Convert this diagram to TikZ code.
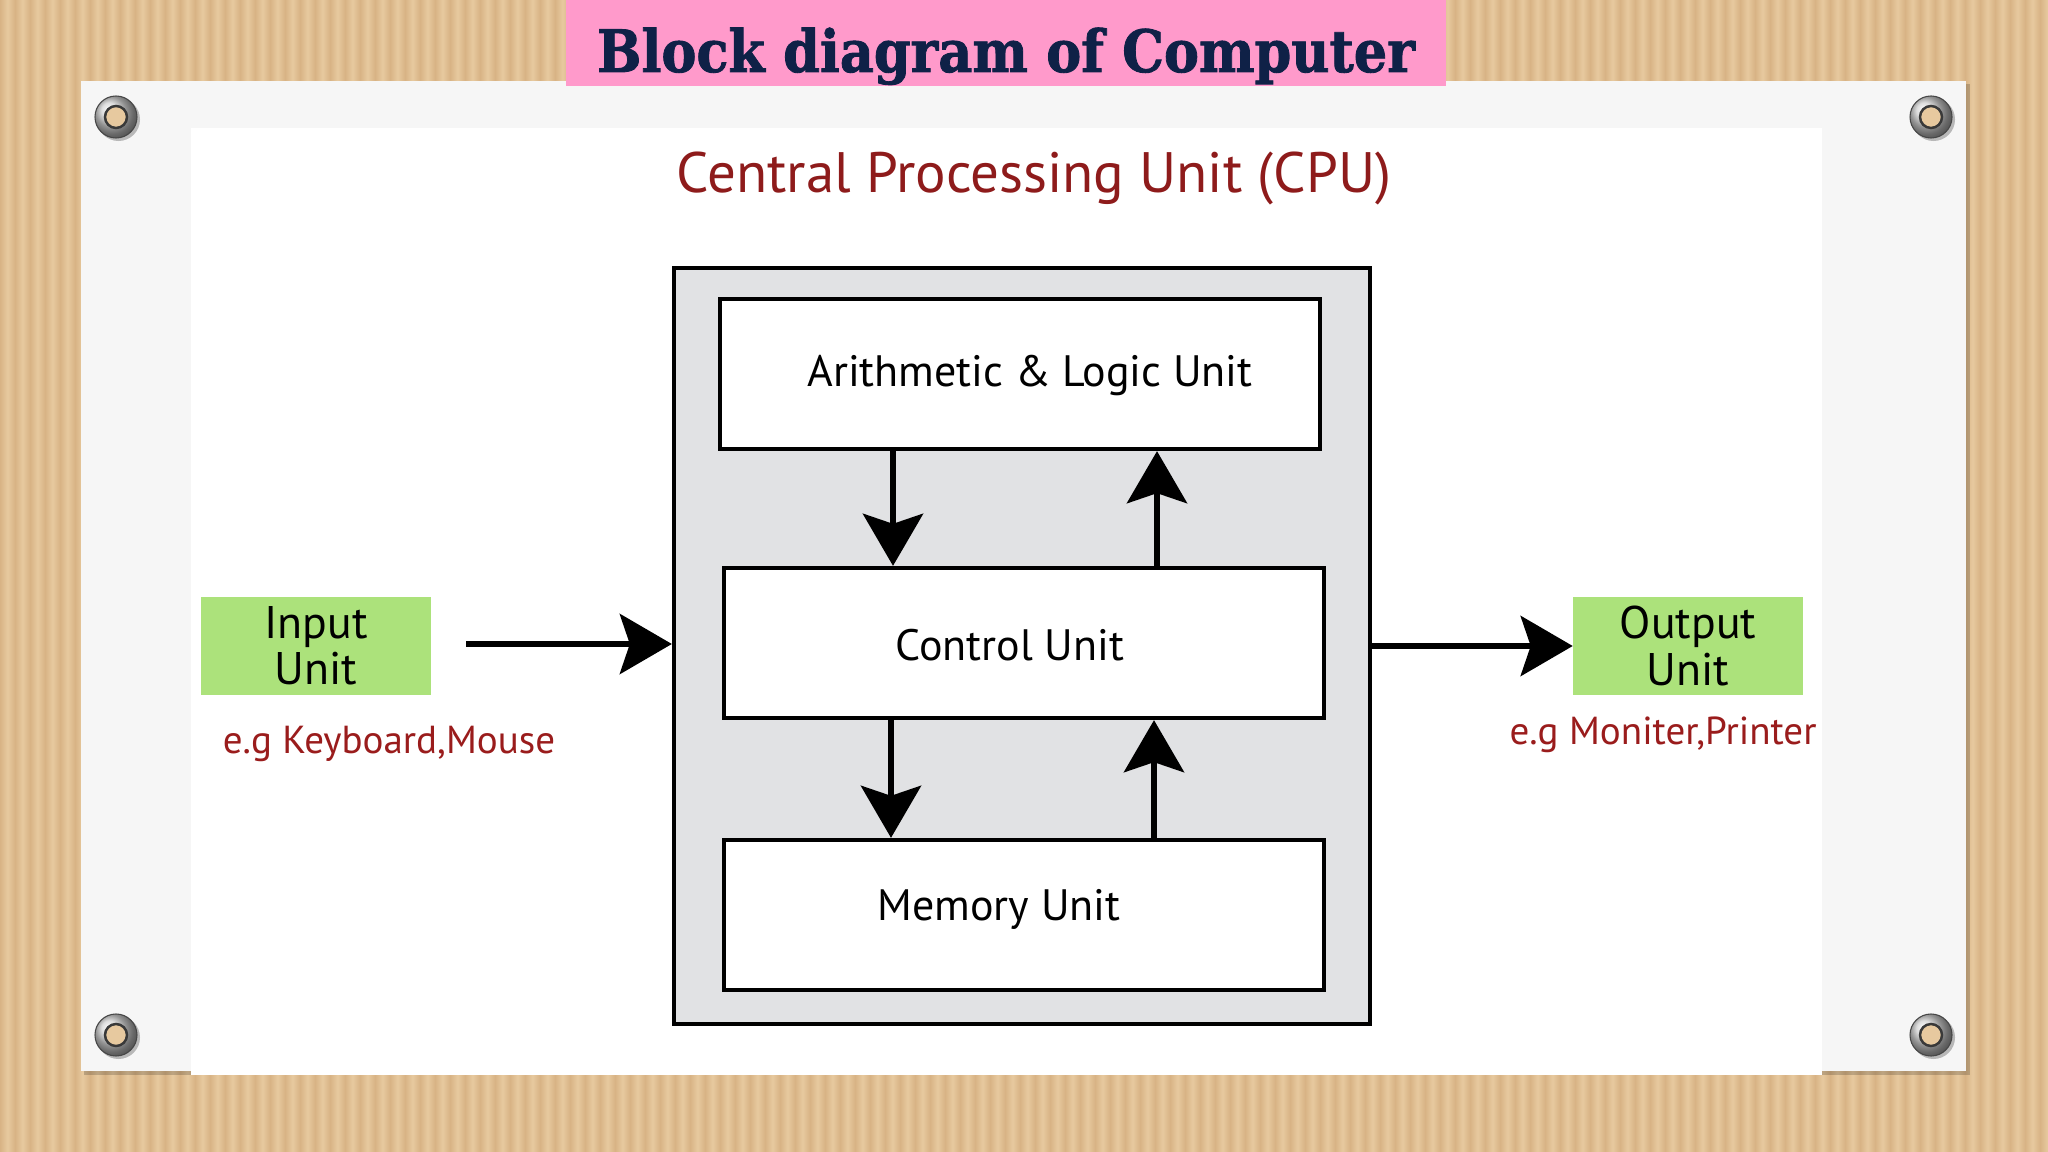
\documentclass[tikz,border=0pt]{standalone}
\usepackage{fontspec}
\setmainfont{PT Sans}
\newfontfamily\titlefont{DejaVu Serif}[BoldFeatures={FakeBold=1.5}]
\usetikzlibrary{arrows.meta,calc}
\definecolor{tanD}{HTML}{D8B385}
\definecolor{tanL}{HTML}{E7C99F}
\definecolor{paper}{HTML}{F6F6F6}
\definecolor{titlePink}{HTML}{FF9ACB}
\definecolor{titleNavy}{HTML}{0F2147}
\definecolor{cpuRed}{HTML}{8E1B1B}
\definecolor{egRed}{HTML}{9A1C1C}
\definecolor{ioGreen}{HTML}{ACE27B}
\definecolor{cpuGray}{HTML}{E1E2E4}
\begin{document}
\begin{tikzpicture}[x=0.01cm,y=-0.01cm,
  unitbox/.style={draw=black, line width=1.2pt, fill=white, minimum width=6cm, minimum height=1.5cm, inner sep=0pt},
  boxtext/.style={inner sep=0pt, font=\fontsize{12.5}{15}\selectfont},
  iobox/.style={fill=ioGreen, minimum width=2.29cm, minimum height=0.98cm, inner sep=0pt, align=center, font=\fontsize{13}{13.2}\selectfont},
  arr/.style={line width=1.7pt, -{Stealth[length=0.52cm,width=0.6cm,inset=0.1cm]}},
  eg/.style={text=egRed, inner sep=0pt, font=\fontsize{11.1}{13}\selectfont},
  grommet/.pic={
    \fill[black,opacity=0.25] (0.025cm,-0.025cm) circle[radius=0.215cm];
    \shade[ball color=gray!35] (0,0) circle[radius=0.21cm];
    \draw[gray!55!black, line width=0.3pt] (0,0) circle[radius=0.21cm];
    \fill[tanL] (0,0) circle[radius=0.11cm];
    \draw[gray!45!black, line width=0.7pt] (0,0) circle[radius=0.11cm];
  }
]
\useasboundingbox (0,0) rectangle (2048,1152);
% cardboard background
\fill[tanD] (0,0) rectangle (2048,1152);
\foreach \i in {0,...,136} {
  \shade[left color=tanD, right color=tanD, middle color=tanL] ({\i*15},0) rectangle ({\i*15+15},1152);
}
% paper
\fill[black,opacity=0.18] (84,84) rectangle (1970,1075);
\fill[paper] (81,81) rectangle (1966,1071);
\fill[white] (191,128) rectangle (1822,1075);
% grommets
\pic at (116,117) {grommet};
\pic at (1931,117) {grommet};
\pic at (116,1035) {grommet};
\pic at (1931,1035) {grommet};
% title
\node[fill=titlePink, minimum width=8.8cm, minimum height=0.86cm, inner sep=0pt] (titlebox) at (1006,43) {};
\node[anchor=base, inner sep=0pt, text=titleNavy, font=\titlefont\bfseries\fontsize{16.6}{20}\selectfont] (title) at (1006,72)
      {\scalebox{0.9}[1]{Block diagram of Computer}};
% CPU heading
\node[text=cpuRed, inner sep=0pt, font=\fontsize{16.2}{19}\selectfont] (cpuhead) at (1034,178) {Central Processing Unit (CPU)};
% CPU box
\node[draw=black, line width=1.1pt, fill=cpuGray, minimum width=6.96cm, minimum height=7.56cm, inner sep=0pt] (cpu) at (1022,646) {};
\node[unitbox] (alu) at (1020,374) {};
\node[unitbox] (cu) at (1024,643) {};
\node[unitbox] (mu) at (1024,915) {};
\node[boxtext] (alut) at (1030,376) {Arithmetic \& Logic Unit};
\node[boxtext] (cut) at (1010,645) {Control Unit};
\node[boxtext] (mut) at (999,909) {Memory Unit};
% internal arrows
\coordinate (xa) at (893,0);
\coordinate (xb) at (1157,0);
\coordinate (xc) at (891,0);
\coordinate (xd) at (1154,0);
\draw[arr] (alu.south -| xa) -- (cu.north -| xa);
\draw[arr] (cu.north -| xb) -- (alu.south -| xb);
\draw[arr] (cu.south -| xc) -- (mu.north -| xc);
\draw[arr] (mu.north -| xd) -- (cu.south -| xd);
% input / output
\node[iobox] (in) at (316,646) {Input\\Unit};
\node[iobox] (out) at (1688,646) {Output\\Unit};
\coordinate (inS) at (466,644);
\draw[arr] (inS) -- (cpu.west |- inS);
\draw[arr] (cpu.east |- out.west) -- (out.west);
\node[eg] (ink) at (389,744) {e.g Keyboard,Mouse};
\node[eg] (outk) at (1663,735) {e.g Moniter,Printer};
\end{tikzpicture}
\end{document}
